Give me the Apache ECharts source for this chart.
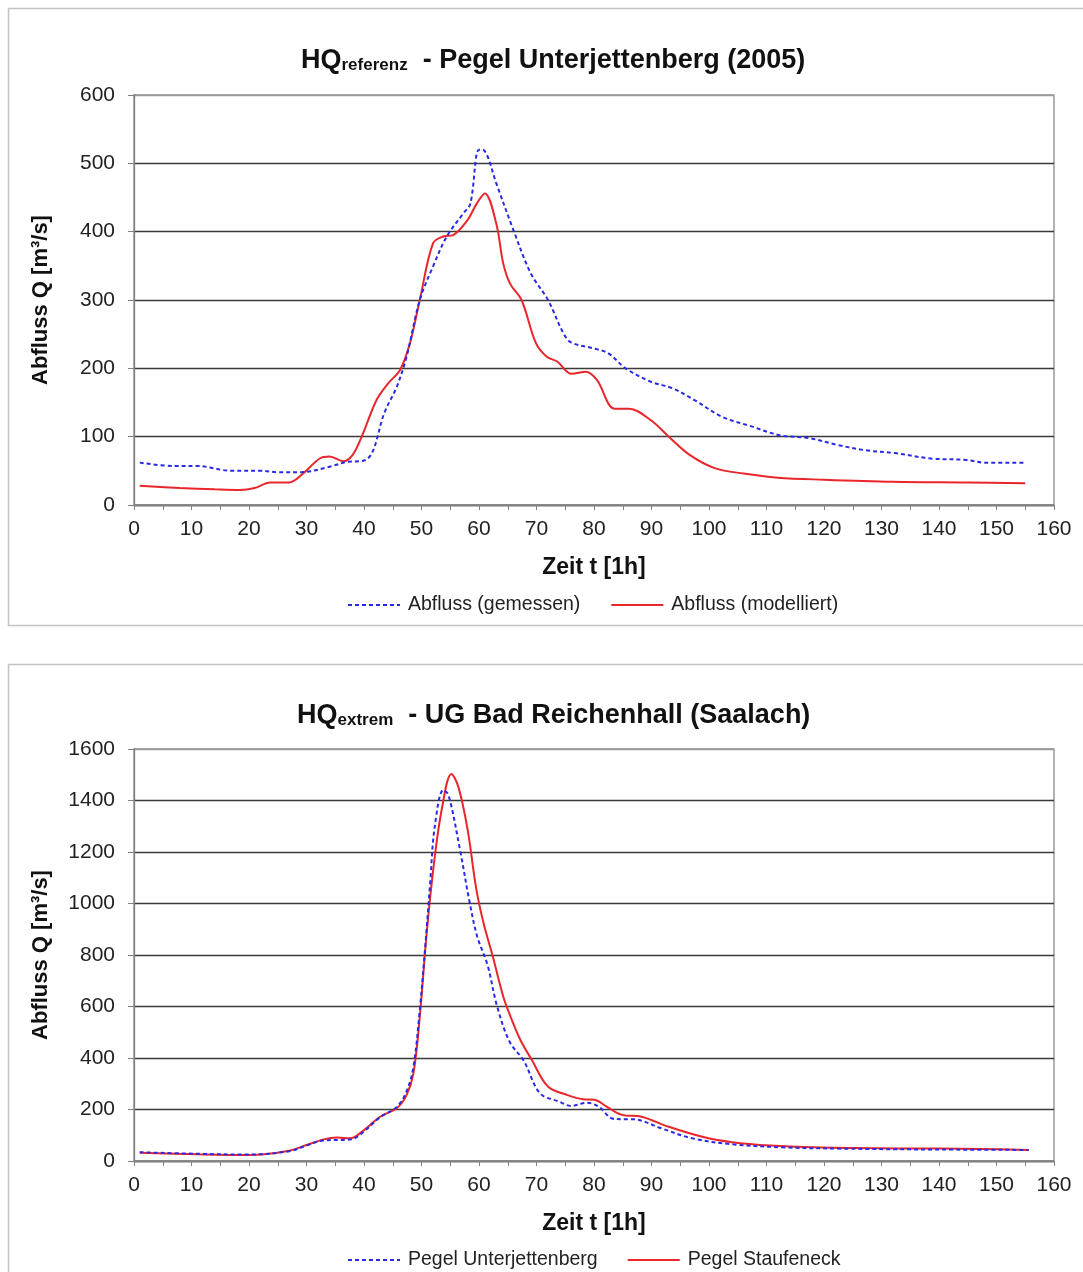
<!DOCTYPE html>
<html><head><meta charset="utf-8">
<script src="https://cdn.jsdelivr.net/npm/echarts@6/dist/echarts.min.js"></script>
<style>html,body{margin:0;padding:0;background:#fff}.c{width:1083px;height:636px}</style>
</head><body><div id="c1" class="c"></div><div id="c2" class="c"></div>
<script>
// ---- Chart 1: HQreferenz - Pegel Unterjettenberg (2005)
const topMeasuredT = [1,7,11,17,22,25,29,34,37,40,41.5,43.5,45.7,47.4,49.7,52,54.4,57.3,58.5,60,61,63,66,69,72,74.7,76,80,82.5,85.5,90,93.6,97.4,102.3,107.4,112.3,117.3,122.3,127.3,132.3,138.6,144.8,148,155];
const topMeasuredQ = [62,57,57,50,50,48,48,56,63,65,78,134,173,217,300,349,393,427,441,520,518,471,402,339,300,251,238,229,222,200,180,171,154,129,115,102,98,88,80,76,68,66,62,62];
const topModelT = [1,8,14,18.4,21,23.7,27,29.4,32.3,34,36.4,38,39.6,42.2,44.2,46.3,48,49.7,52,53.8,55.5,58,59.6,61,63,64.2,65.4,67.4,69.9,71.8,73.6,76.1,78.6,80.5,83.6,86.1,89.9,93,96.7,101,106,112,120,132,145,155];
const topModelQ = [28,25,23,22,25,33,33,46,68,71,64,73,100,154,178,198,237,300,383,393,395,417,441,456,412,354,324,300,237,217,210,192,195,183,141,141,124,100,73,54,46,40,37,34,33,32];
// ---- Chart 2: HQextrem - UG Bad Reichenhall (Saalach)
const botUnterT = [1,11,20,27,30,33,36.4,38,40,42.8,45.7,47.4,48.6,49.7,50.6,51.5,52.3,53.8,54.7,56.7,58.4,59.7,61.5,63.1,65.3,67.8,70.6,74,76,78.8,80.8,83.5,86.9,91.7,97.1,104,112.8,123,136.6,155.6];
const botUnterQ = [34,28,25,38,60,80,82,85,115,170,210,270,366,586,819,1078,1298,1441,1421,1208,1001,871,760,605,464,389,263,230,214,226,211,163,162,127,88,65,53,48,45,43];
const botStaufT = [1,11,20,27,30,33,35.3,37.6,40,42.8,45.7,47.4,48.6,49.7,50.9,52.1,53.5,55.2,56.4,58,59.5,60.8,62.4,64.2,65.5,67.2,69.2,72,75.4,78.1,80.1,82.2,84.9,88.3,93,99.2,104,110.7,119.6,133,147,155.6];
const botStaufQ = [32,26,23,40,62,84,91,88,120,172,205,256,340,560,884,1143,1363,1503,1454,1290,1060,923,794,640,560,470,392,289,256,240,238,211,179,172,133,92,73,60,52,49,47,43];
// ---- Axis ticks
const xTicks = {min:0, max:160, interval:5, labelStep:10};
const yTop = {min:0, max:600, interval:100};
const yBot = {min:0, max:1600, interval:200};

const zip = (a,b)=>a.map((v,i)=>[v,b[i]]);
const font = '"Liberation Sans", Arial, sans-serif';
const BLUE = '#2a2ae6', RED = '#e8262b';

function xAxis(){
  return {type:'value', min:xTicks.min, max:xTicks.max, interval:xTicks.interval,
    name:'Zeit t [1h]', nameLocation:'middle', nameGap:51,
    nameTextStyle:{fontFamily:font, fontSize:23, fontWeight:'bold', color:'#111'},
    axisLine:{show:true, lineStyle:{color:'#808080', width:1.3}},
    axisTick:{show:true, length:5, lineStyle:{color:'#808080'}},
    axisLabel:{margin:14, fontFamily:font, fontSize:21, color:'#222',
      formatter:v=> (v % xTicks.labelStep === 0 ? String(v) : '')},
    splitLine:{show:false}};
}
function yAxis(ax){
  const n = Math.round((ax.max-ax.min)/ax.interval)+1;
  const cols = []; for(let i=0;i<n;i++) cols.push(i===n-1?'#9a9a9a':'#3a3a3a');
  return {type:'value', min:ax.min, max:ax.max, interval:ax.interval,
    name:'Abfluss Q [m³/s]', nameLocation:'middle', nameRotate:90, nameGap:82,
    nameTextStyle:{fontFamily:font, fontSize:22, fontWeight:'bold', color:'#111'},
    axisLine:{show:true, lineStyle:{color:'#808080', width:1.3}},
    axisTick:{show:true, length:6, lineStyle:{color:'#808080'}},
    axisLabel:{margin:19, fontFamily:font, fontSize:21, color:'#222', formatter:v=>String(v)},
    splitLine:{show:true, lineStyle:{color:cols, width:1.4}}};
}
function line(name, data, color, dashed){
  return {type:'line', name, data, showSymbol:false, symbol:'none',
    smooth:0.35, lineStyle:{color, width:2, type: dashed?[4,3]:'solid'}, itemStyle:{color}, z:dashed?3:2};
}
function titleOpt(main, sub, rest, left, top){
  return {text:'{a|'+main+'}{b|'+sub+'}{a|'+rest+'}', left, top,
    textStyle:{rich:{a:{fontFamily:font, fontSize:27, fontWeight:'bold', color:'#111', verticalAlign:'bottom', lineHeight:32},
                     b:{fontFamily:font, fontSize:17, fontWeight:'bold', color:'#111', verticalAlign:'bottom', lineHeight:22}}}};
}
function legendOpt(names, top, gap){
  return {data:names, top, left:342, itemWidth:52, itemHeight:14, itemGap:gap,
    itemStyle:{opacity:0}, textStyle:{fontFamily:font, fontSize:19.5, color:'#222', padding:[0,0,0,3]}, selectedMode:false};
}
function frame(y, h){
  return [{type:'rect', shape:{x:8.5,y,width:1090,height:h}, style:{fill:null, stroke:'#c4c4c4', lineWidth:1.5}, silent:true, z:-10}];
}

const c1 = echarts.init(document.getElementById('c1'));
c1.setOption({
  animation:false, backgroundColor:'#fff',
  graphic:frame(8.5, 617),
  title:titleOpt('HQ','referenz','  - Pegel Unterjettenberg (2005)',296,37),
  legend:legendOpt(['Abfluss (gemessen)','Abfluss (modelliert)'],590,30),
  grid:{left:134, top:95, width:920, height:410, show:true, borderColor:'#8a8a8a', borderWidth:1.3},
  xAxis:xAxis(), yAxis:yAxis(yTop),
  series:[
    line('Abfluss (gemessen)',zip(topMeasuredT,topMeasuredQ),BLUE,true),
    line('Abfluss (modelliert)',zip(topModelT,topModelQ),RED,false)
  ]
});
const c2 = echarts.init(document.getElementById('c2'));
c2.setOption({
  animation:false, backgroundColor:'#fff',
  graphic:frame(28.5, 660),
  title:titleOpt('HQ','extrem','  - UG Bad Reichenhall (Saalach)',292,56),
  legend:legendOpt(['Pegel Unterjettenberg','Pegel Staufeneck'],609,29),
  grid:{left:134, top:113, width:920, height:412, show:true, borderColor:'#8a8a8a', borderWidth:1.3},
  xAxis:xAxis(), yAxis:yAxis(yBot),
  series:[
    line('Pegel Unterjettenberg',zip(botUnterT,botUnterQ),BLUE,true),
    line('Pegel Staufeneck',zip(botStaufT,botStaufQ),RED,false)
  ]
});
</script></body></html>
